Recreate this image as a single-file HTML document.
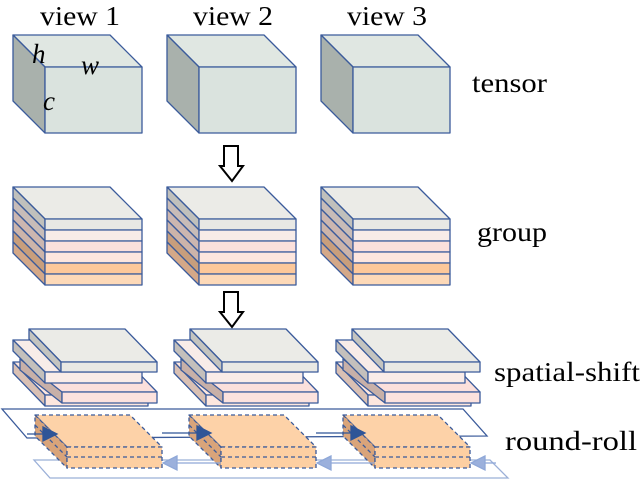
<!DOCTYPE html>
<html><head><meta charset="utf-8"><style>
html,body{margin:0;padding:0;background:#fff}
svg{display:block}
text{font-family:"Liberation Serif",serif;fill:#000}
</style></head><body>
<svg width="640" height="480" viewBox="0 0 640 480" xmlns="http://www.w3.org/2000/svg">
<defs>
<g id="cube" stroke="#3b5b9b" stroke-width="1.3" stroke-linejoin="round">
  <polygon points="13,35 110,35 142,67 45,67" fill="#e0e7e2"/>
  <polygon points="13,35 45,67 45,133 13,101" fill="#a9b1ac"/>
  <rect x="45" y="67" width="97" height="66" fill="#dae3de"/>
</g>
<g id="group" stroke="#3b5b9b" stroke-width="1.3" stroke-linejoin="round">
  <polygon points="13,187 110,187 142,219 45,219" fill="#ebebe7"/>
  <polygon points="13,187 45,219 45,230 13,198" fill="#c0c0bc"/>
  <polygon points="13,198 45,230 45,241 13,209" fill="#c8bcb8"/>
  <polygon points="13,209 45,241 45,252 13,220" fill="#ccb6b0"/>
  <polygon points="13,220 45,252 45,263 13,231" fill="#ccb4aa"/>
  <polygon points="13,231 45,263 45,274 13,242" fill="#c89e7c"/>
  <polygon points="13,242 45,274 45,285 13,253" fill="#d4a888"/>
  <rect x="45" y="219" width="97" height="11" fill="#e8e8e4"/>
  <rect x="45" y="230" width="97" height="11" fill="#f8ece8"/>
  <rect x="45" y="241" width="97" height="11" fill="#fbe0dc"/>
  <rect x="45" y="252" width="97" height="11" fill="#fde6de"/>
  <rect x="45" y="263" width="97" height="11" fill="#fdc89a"/>
  <rect x="45" y="274" width="97" height="11" fill="#fdd9b8"/>
</g>
<g id="shift" stroke="#3b5b9b" stroke-width="1.3" stroke-linejoin="round">
  <polygon points="13,362 110,362 148,395 45,395" fill="#fde6de"/>
  <polygon points="13,362 45,395 45,406 13,373" fill="#d9c0b4"/>
  <rect x="45" y="395" width="103" height="11" fill="#fde6de"/>
  <polygon points="20,359 125,359 157,392 52,392" fill="#fbe0dc"/>
  <polygon points="20,359 62,392 62,403 20,370" fill="#c8b0a8"/>
  <rect x="62" y="392" width="95" height="11" fill="#fce2de"/>
  <polygon points="13,340 110,340 142,372 45,372" fill="#f8ece8"/>
  <polygon points="13,340 45,372 45,383 13,351" fill="#c4c0bc"/>
  <rect x="45" y="372" width="97" height="11" fill="#f9ece8"/>
  <polygon points="29,329 125,329 157,362 61,362" fill="#ebebe7"/>
  <polygon points="29,329 61,362 61,372 29,339" fill="#c4c4c0"/>
  <rect x="61" y="362" width="96" height="10" fill="#e8e8e4"/>
</g>
<g id="roll" stroke="#3b5b9b" stroke-width="1.3" stroke-dasharray="4,3" stroke-linejoin="round">
  <polygon points="35,415 130,415 162,447 67,447" fill="#fdd2a8"/>
  <polygon points="35,415 67,447 67,468 35,436" fill="#d9a47a"/>
  <line x1="35" y1="425" x2="67" y2="457"/>
  <rect x="67" y="447" width="95" height="21" fill="#fdcfa2"/>
  <line x1="67" y1="457" x2="162" y2="457"/>
</g>
<g id="darr" fill="#fff" stroke="#000" stroke-width="2" stroke-linejoin="miter">
  <polygon points="224,146 238,146 238,166 243,166 232,181 220,166 224,166"/>
</g>
</defs>

<text x="40" y="25" font-size="27" textLength="80" lengthAdjust="spacingAndGlyphs">view 1</text>
<text x="193" y="25" font-size="27" textLength="80" lengthAdjust="spacingAndGlyphs">view 2</text>
<text x="347" y="25" font-size="27" textLength="80" lengthAdjust="spacingAndGlyphs">view 3</text>

<use href="#cube"/>
<use href="#cube" x="154"/>
<use href="#cube" x="308"/>
<text x="32" y="63" font-size="27" font-style="italic">h</text>
<text x="81" y="74" font-size="27" font-style="italic">w</text>
<text x="43" y="110" font-size="27" font-style="italic">c</text>
<text x="472" y="92" font-size="27" textLength="75" lengthAdjust="spacingAndGlyphs">tensor</text>

<use href="#darr"/>
<use href="#darr" y="146"/>

<use href="#group"/>
<use href="#group" x="154"/>
<use href="#group" x="308"/>
<text x="477" y="241" font-size="27" textLength="70" lengthAdjust="spacingAndGlyphs">group</text>

<use href="#shift"/>
<use href="#shift" x="161"/>
<use href="#shift" x="323"/>
<text x="494" y="381" font-size="27" textLength="146" lengthAdjust="spacingAndGlyphs">spatial-shift</text>

<polygon points="2,409 463,409 487,436 27,438" fill="none" stroke="#3b5b9b" stroke-width="1.3"/>
<polygon points="34,460 490,460 508,478 50,478" fill="none" stroke="#9bb0d8" stroke-width="1.3"/>
<use href="#roll"/>
<use href="#roll" x="154"/>
<use href="#roll" x="308"/>
<g stroke="#2f5597" stroke-width="1.3" fill="#2f5597">
  <line x1="27" y1="434" x2="45" y2="434"/>
  <polygon points="43,427 57,434 43,441"/>
  <line x1="162" y1="433" x2="198" y2="433"/>
  <polygon points="197,426 211,433 197,440"/>
  <line x1="316" y1="433" x2="352" y2="433"/>
  <polygon points="351,426 365,433 351,440"/>
</g>
<g stroke="#8fa8d8" stroke-width="1.3" fill="#9bb0dc">
  <line x1="176" y1="463" x2="221" y2="463"/>
  <polygon points="177,456 163,463 177,470"/>
  <line x1="330" y1="463" x2="375" y2="463"/>
  <polygon points="331,456 317,463 331,470"/>
  <line x1="484" y1="463" x2="496" y2="463"/>
  <polygon points="485,456 471,463 485,470"/>
</g>
<text x="505" y="450" font-size="27" textLength="132" lengthAdjust="spacingAndGlyphs">round-roll</text>
</svg>
</body></html>
